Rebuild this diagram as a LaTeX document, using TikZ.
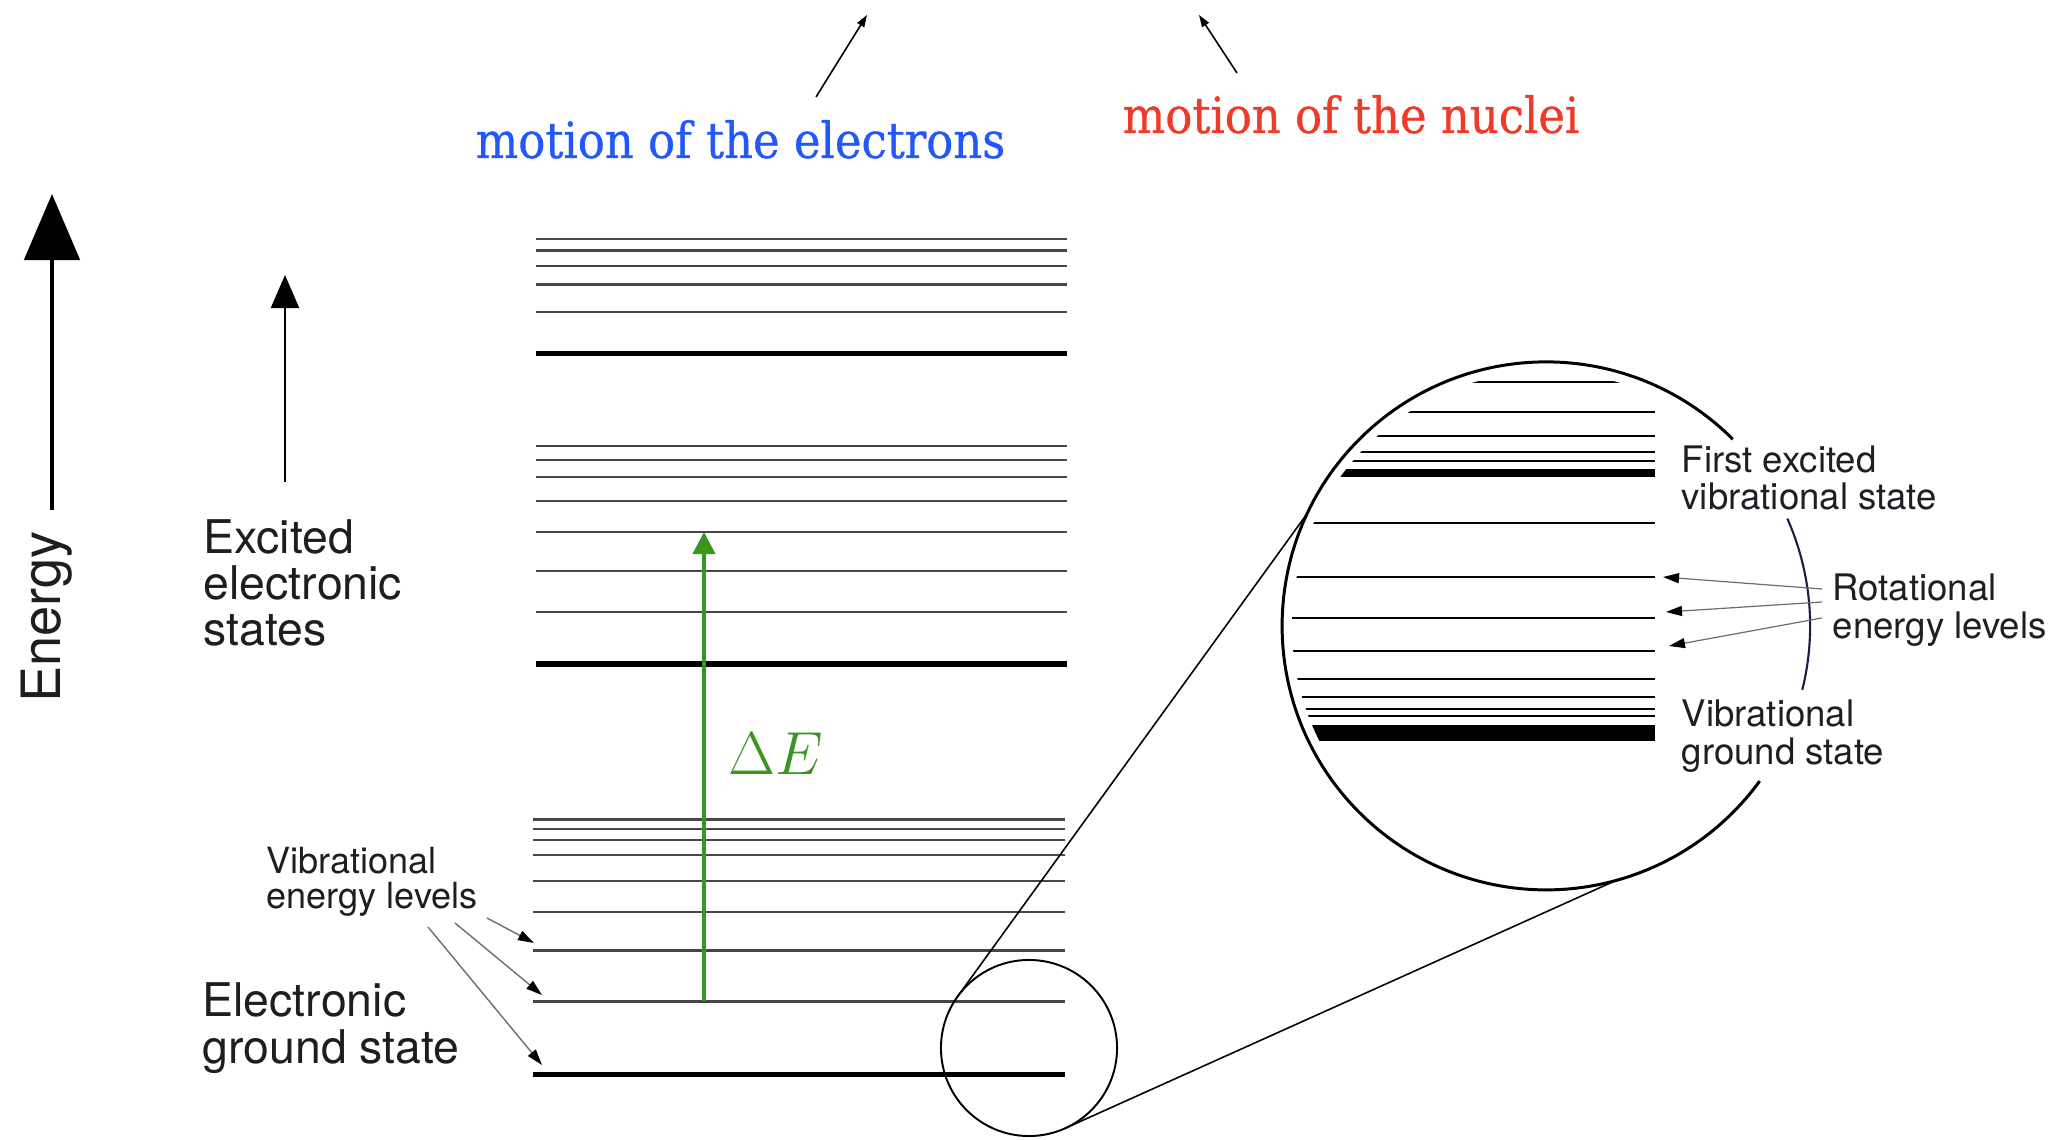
\documentclass[tikz,border=0pt]{standalone}
\usepackage[no-math]{fontspec}
\setmainfont{TeX Gyre Heros}
\newfontfamily\slabfont[FakeStretch=0.9,FakeBold=0.6]{DejaVu Serif}
\usepackage{tikz}
\usetikzlibrary{arrows.meta}
\definecolor{ElecBlue}{RGB}{34,88,250}
\definecolor{NuclRed}{RGB}{238,58,38}
\definecolor{DeltaGreen}{RGB}{58,150,32}
\definecolor{Navy}{RGB}{28,28,72}
\definecolor{Ink}{RGB}{30,30,30}
\definecolor{Thin}{RGB}{70,70,70}
\definecolor{Pointer}{RGB}{110,110,110}
\tikzset{
  vlevel/.style={draw=Thin,line width=0.6pt},
  vground/.style={draw=black,line width=1.7pt},
  rlevel/.style={draw=black,line width=0.55pt},
  statetext/.style={inner sep=0pt,anchor=west,align=left,text=Ink,font=\fontsize{13.2}{13.2}\selectfont},
  notetext/.style={inner sep=0pt,anchor=west,align=left,text=Ink!85!Navy,font=\fontsize{10.4}{10.7}\selectfont},
  motiontext/.style={inner sep=0pt,anchor=base west,font=\slabfont\fontsize{14.2}{14.2}\selectfont},
  pointer/.style={-{Triangle[length=0.16cm,width=0.1cm,color=black]},line width=0.4pt,draw=Pointer},
  hint/.style={-{Triangle[length=0.12cm,width=0.08cm]},line width=0.45pt,draw=black},
  zoomline/.style={line width=0.45pt,draw=black}
}
\begin{document}
\begin{tikzpicture}[x=0.01cm,y=0.01cm]
\useasboundingbox (0,0) rectangle (2056,-1140);
% energy axis and labels on the left
\node[rotate=90,inner sep=0pt,text=Ink,font=\fontsize{15.4}{15.4}\selectfont] (energy) at (47,-617) {Energy};
\coordinate (ebase) at (52,-510); \coordinate (etop) at (52,-194);
\draw[-{Triangle[length=0.66cm,width=0.55cm]},line width=1.4pt] (ebase) -- (etop);
\node[statetext] (excited) at (203,-583) {Excited\\electronic\\states};
\coordinate (xbase) at (285,-482); \coordinate (xtop) at (285,-275);
\draw[-{Triangle[length=0.33cm,width=0.28cm]},line width=0.6pt] (xbase) -- (xtop);
\node[statetext] (ground) at (202,-1028) {Electronic\\ground state};
\node[statetext,font=\fontsize{10.25}{10}\selectfont] (vibl) at (266,-882) {Vibrational\\energy levels};
% electronic states with their vibrational levels
\foreach \y in {239,250.5,266,284.5,312} \draw[vlevel] (536,-\y) -- (1067,-\y);
\draw[vground] (536,-353.5) -- (1067,-353.5);
\foreach \y in {446,460,477,501,532,571,612} \draw[vlevel] (536,-\y) -- (1067,-\y);
\draw[vground] (536,-664) -- (1067,-664);
\foreach \y in {819.5,829,840,855,881,912,950.5,1001.5} \draw[vlevel] (533,-\y) -- (1065,-\y);
\draw[vground] (533,-1074.5) -- (1065,-1074.5);
\coordinate (v2) at (534,-943); \coordinate (v1) at (542,-995); \coordinate (v0) at (542,-1065);
\coordinate (t2) at (487,-918); \coordinate (t1) at (455,-923); \coordinate (t0) at (428,-927);
\draw[pointer] (t2) -- (v2); \draw[pointer] (t1) -- (v1); \draw[pointer] (t0) -- (v0);
% transition
\coordinate (gfrom) at (704,-1001.5); \coordinate (gto) at (704,-532);
\draw[-{Triangle[length=0.22cm,width=0.22cm]},draw=DeltaGreen,fill=DeltaGreen,line width=1.1pt] (gfrom) -- (gto);
\node[text=DeltaGreen,inner sep=0pt,font=\fontsize{16.5}{16.5}\selectfont] (dE) at (776,-754) {$\Delta E$};
% motions
\node[motiontext,text=ElecBlue] (electrons) at (475,-158) {motion of the electrons};
\node[motiontext,text=NuclRed] (nuclei) at (1122,-133) {motion of the nuclei};
\coordinate (efrom) at (816,-97); \coordinate (eto) at (867,-15);
\coordinate (nfrom) at (1237,-73); \coordinate (nto) at (1199,-15);
\draw[hint] (efrom) -- (eto); \draw[hint] (nfrom) -- (nto);
% magnifier
\node[circle,draw,line width=0.55pt,minimum size=1.76cm,inner sep=0pt,outer sep=0pt] (zoomS) at (1029,-1048) {};
\node[circle,minimum size=5.28cm,inner sep=0pt,outer sep=0pt] (zoomL) at (1546,-626) {};
\draw[line width=0.85pt] (zoomL.45) arc[start angle=45,end angle=324,radius=264];
\draw[draw=Navy,line width=0.6pt] (zoomL.24) arc[start angle=24,end angle=-14,radius=264];
\draw[zoomline] (zoomS.144) -- (zoomL.155); \draw[zoomline] (zoomS.-66) -- (zoomL.-75);
\begin{scope}
\clip (zoomL.center) circle (254);
\foreach \y in {382,412,436,452,461,523,577,618,651,679,697,709,716} \draw[rlevel] (1280,-\y) -- (1655,-\y);
\draw[black,line width=2.3pt] (1280,-473) -- (1655,-473);
\draw[black,line width=4.8pt] (1280,-733) -- (1655,-733);
\end{scope}
\node[notetext] (firstx) at (1681,-478) {First excited\\vibrational state};
\node[notetext] (rot) at (1832,-610) {Rotational\\energy levels};
\node[notetext] (vibg) at (1681,-736) {Vibrational\\ground state};
\coordinate (r1) at (1822,-589); \coordinate (r2) at (1822,-602); \coordinate (r3) at (1822,-618);
\coordinate (j1) at (1663,-577); \coordinate (j2) at (1666,-612); \coordinate (j3) at (1669,-646);
\draw[pointer,line width=0.35pt] (r1) -- (j1); \draw[pointer,line width=0.35pt] (r2) -- (j2); \draw[pointer,line width=0.35pt] (r3) -- (j3);
\end{tikzpicture}
\end{document}
